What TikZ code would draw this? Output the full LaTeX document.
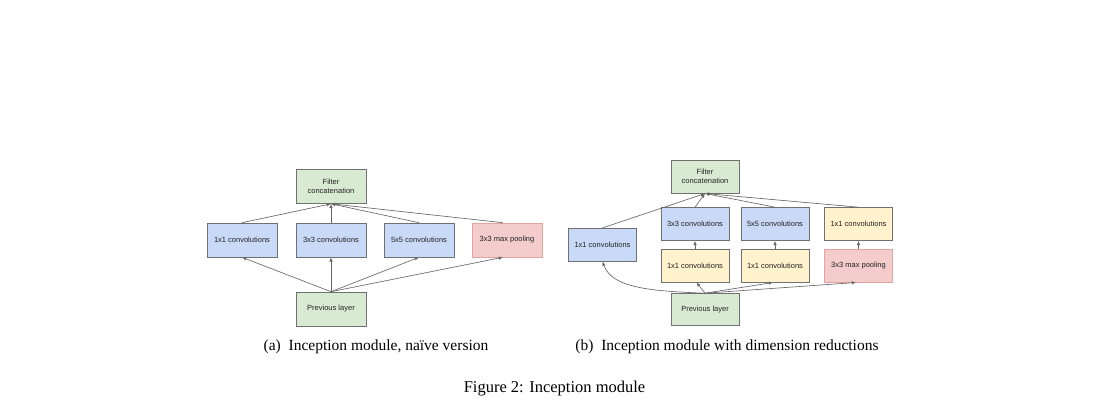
\documentclass[tikz,border=0pt]{standalone}
\usepackage{fontspec}
\setmainfont{Liberation Serif}
\newfontfamily\boxfont{Liberation Sans}
\usetikzlibrary{arrows.meta}
\definecolor{bluef}{HTML}{C9DAF8}
\definecolor{greenf}{HTML}{D9EAD3}
\definecolor{yellowf}{HTML}{FFF2CC}
\definecolor{redf}{HTML}{F4CCCC}
\definecolor{redb}{HTML}{E3A3A3}
\definecolor{boxb}{HTML}{707070}
\definecolor{arrowc}{HTML}{666666}
\definecolor{txt}{HTML}{222222}
\tikzset{
  box/.style={draw=boxb, line width=0.6pt, minimum width=70pt, minimum height=34pt,
    inner sep=1pt, align=center, text=txt, font=\boxfont\fontsize{7.5}{8.8}\selectfont},
  bbox/.style={box, minimum width=68pt, minimum height=33pt},
  blueb/.style={fill=bluef},
  greenb/.style={fill=greenf},
  yellowb/.style={fill=yellowf},
  redbx/.style={fill=redf, draw=redb},
  conn/.style={draw=arrowc, line width=0.65pt, -{Latex[length=4.2pt,width=3.4pt]}},
  captext/.style={font=\fontsize{15.5}{17}\selectfont, text=black, inner sep=0pt, anchor=base}
}
\begin{document}
\begin{tikzpicture}[x=1pt,y=-1pt]
\useasboundingbox (0,0) rectangle (1105,415);
% panel (a)
\node[box,greenb] (fa) at (331,186.5) {Filter\\concatenation};
\node[box,blueb] (a1) at (242,240) {1x1 convolutions};
\node[box,blueb] (a3) at (331,240) {3x3 convolutions};
\node[box,blueb] (a5) at (419,240) {5x5 convolutions};
\node[box,redbx] (ap) at (507,240) {3x3 max pooling};
\node[box,greenb] (pa) at (331,309) {Previous layer};
\foreach \n in {a1,a3,a5} \draw[conn] (pa.north) -- (\n.south);
\draw[conn] (pa.north) -- ([xshift=-4pt]ap.south);
\foreach \n in {a1,a3,a5} \draw[conn] (\n.north) -- (fa.south);
\draw[conn] ([xshift=-4pt]ap.north) -- (fa.south);
% panel (b)
\node[bbox,greenb] (fb) at (705,176.7) {Filter\\concatenation};
\node[bbox,blueb] (b1) at (602.5,244.7) {1x1 convolutions};
\node[bbox,blueb] (b3) at (695,224) {3x3 convolutions};
\node[bbox,blueb] (b5) at (775,224) {5x5 convolutions};
\node[bbox,yellowb] (bt) at (858.5,224) {1x1 convolutions};
\node[bbox,yellowb] (by3) at (695,265.7) {1x1 convolutions};
\node[bbox,yellowb] (by5) at (775,265.7) {1x1 convolutions};
\node[bbox,redbx] (bp) at (858.5,265.7) {3x3 max pooling};
\node[bbox,greenb,minimum height=32pt] (pb) at (705,309.5) {Previous layer};
\draw[conn] (pb.north) .. controls (650,291) and (612,288) .. (b1.south);
\draw[conn] (pb.north) -- ([xshift=1.5pt]by3.south);
\draw[conn] (pb.north) -- ([xshift=-2pt]by5.south);
\draw[conn] (pb.north) -- ([xshift=-2.5pt]bp.south);
\draw[conn] (by3.north) -- (b3.south);
\draw[conn] (by5.north) -- (b5.south);
\draw[conn] (bp.north) -- (bt.south);
\draw[conn] (b1.north) -- (fb.south);
\draw[conn] (b3.north) -- (fb.south);
\draw[conn] (b5.north) -- (fb.south);
\draw[conn] (bt.north) -- (fb.south);
% captions
\node[captext] (capa) at (376,350) {(a)\enspace Inception module, naïve version};
\node[captext] (capb) at (727,350) {(b)\enspace Inception module with dimension reductions};
\node[captext, font=\fontsize{16.5}{18}\selectfont] (capf) at (554.5,392.5) {Figure 2: Inception module};
\end{tikzpicture}
\end{document}
